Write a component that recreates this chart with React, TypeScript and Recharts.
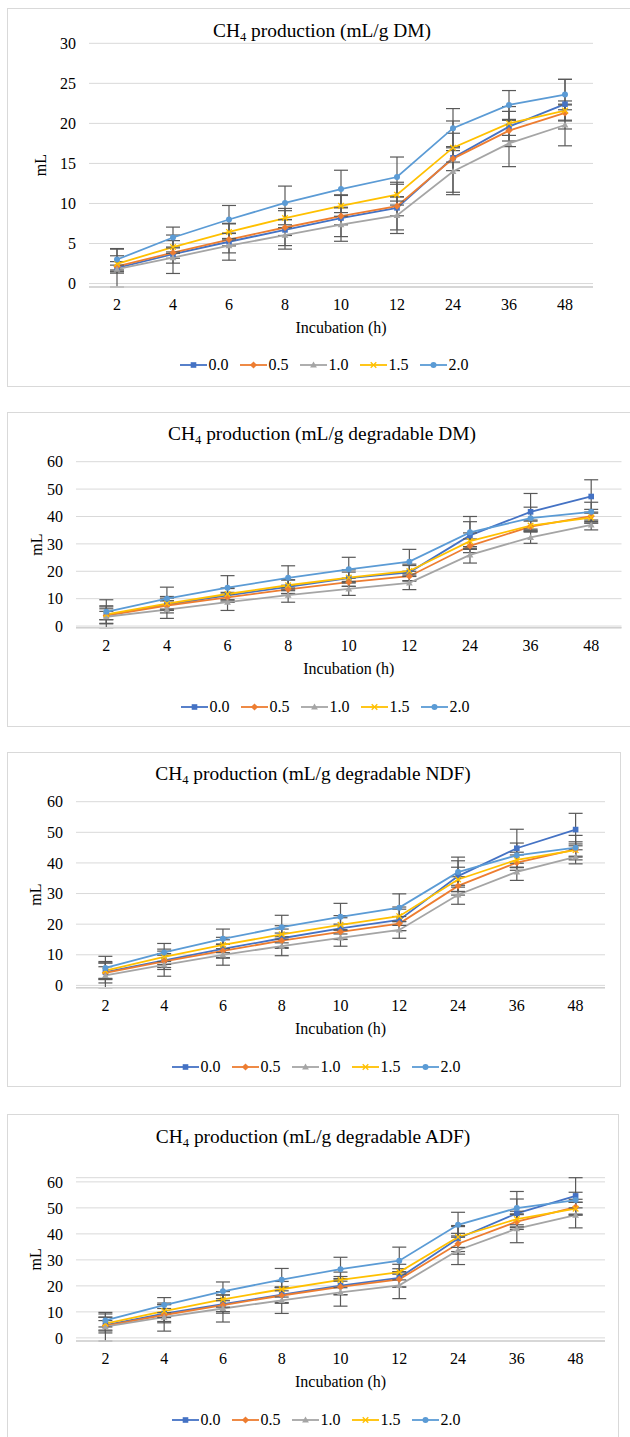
import React from 'react';
import { LineChart, Line, XAxis, YAxis, CartesianGrid, ErrorBar, Legend, Label } from 'recharts';

const hours = ['2', '4', '6', '8', '10', '12', '24', '36', '48'];
const levels = ['0.0', '0.5', '1.0', '1.5', '2.0'];

const ticksDm = [0, 5, 10, 15, 20, 25, 30];
const ticksDeg = [0, 10, 20, 30, 40, 50, 60];

// one row per level (0.0 ... 2.0), one value per incubation hour
const dmMean = [
  [1.97, 3.66, 5.22, 6.7, 8.18, 9.45, 15.7, 19.6, 22.4],
  [2.14, 3.86, 5.5, 7.0, 8.43, 9.66, 15.6, 19.1, 21.3],
  [1.8, 3.25, 4.73, 6.04, 7.36, 8.5, 14.0, 17.5, 19.8],
  [2.47, 4.56, 6.45, 8.18, 9.7, 11.1, 16.97, 20.0, 21.6],
  [3.0, 5.75, 8.0, 10.07, 11.8, 13.3, 19.4, 22.3, 23.6],
];
const dmSd = [
  [2.4, 2.4, 2.3, 2.4, 2.9, 3.2, 4.6, 2.5, 3.1],
  [0.6, 0.7, 0.8, 1.0, 1.1, 1.2, 1.5, 1.3, 1.0],
  [0.5, 0.7, 0.9, 1.3, 1.5, 1.8, 2.6, 2.9, 2.6],
  [1.0, 0.8, 1.0, 1.2, 1.3, 1.3, 1.8, 1.5, 1.2],
  [1.3, 1.3, 1.75, 2.1, 2.35, 2.5, 2.45, 1.8, 1.9],
];

const degDmMean = [
  [4.0, 7.8, 11.2, 14.3, 17.5, 19.6, 33.1, 41.7, 47.3],
  [3.85, 7.5, 10.5, 13.4, 16.0, 18.2, 29.3, 36.3, 40.1],
  [3.4, 6.0, 8.7, 11.3, 13.6, 15.8, 26.0, 32.4, 36.9],
  [4.3, 8.2, 11.7, 14.9, 17.7, 20.1, 31.0, 36.7, 39.6],
  [5.2, 10.0, 14.0, 17.6, 20.7, 23.5, 34.2, 39.4, 41.7],
];
const degDmSd = [
  [3.0, 3.0, 2.5, 2.5, 3.0, 3.0, 5.0, 6.7, 6.1],
  [1.5, 1.8, 1.8, 1.5, 1.5, 1.8, 2.5, 2.0, 2.5],
  [4.0, 3.2, 3.0, 2.6, 2.4, 2.5, 3.0, 2.2, 1.8],
  [2.0, 2.0, 2.2, 2.0, 2.0, 2.0, 3.0, 2.0, 2.0],
  [4.4, 4.2, 4.4, 4.4, 4.4, 4.5, 5.8, 4.0, 3.5],
];

const ndfMean = [
  [4.3, 8.2, 11.9, 15.4, 18.6, 21.4, 35.7, 44.8, 50.9],
  [4.1, 7.85, 11.3, 14.6, 17.5, 20.2, 32.5, 40.1, 44.4],
  [3.3, 6.7, 10.0, 12.8, 15.5, 18.1, 29.6, 37.1, 42.0],
  [4.8, 9.35, 13.2, 16.7, 19.8, 22.6, 34.6, 41.0, 44.2],
  [5.7, 10.75, 15.2, 19.0, 22.4, 25.4, 37.0, 42.5, 45.0],
];
const ndfSd = [
  [3.5, 3.0, 3.0, 3.0, 3.5, 3.5, 5.0, 6.2, 5.3],
  [2.0, 2.0, 2.2, 2.5, 2.5, 2.3, 3.0, 2.5, 2.5],
  [4.05, 3.7, 3.4, 3.1, 2.7, 2.7, 3.1, 2.8, 2.3],
  [2.5, 2.5, 2.5, 2.8, 3.0, 3.0, 4.0, 2.5, 2.0],
  [3.8, 2.95, 3.2, 3.9, 4.4, 4.5, 4.9, 4.0, 4.0],
];

const adfMean = [
  [4.9, 9.3, 13.0, 16.6, 20.1, 23.1, 38.2, 47.9, 54.6],
  [4.65, 8.8, 12.6, 16.3, 19.6, 22.5, 36.2, 44.7, 50.3],
  [4.3, 8.0, 11.3, 14.4, 17.5, 20.2, 33.7, 42.0, 47.2],
  [5.5, 10.3, 14.8, 18.7, 22.3, 25.3, 38.8, 45.7, 49.7],
  [6.7, 12.6, 17.9, 22.4, 26.4, 29.7, 43.5, 49.9, 53.0],
];
const adfSd = [
  [3.0, 3.5, 3.5, 3.0, 3.5, 3.5, 5.0, 5.5, 7.0],
  [2.0, 2.5, 2.5, 3.0, 3.0, 3.0, 4.0, 3.0, 3.0],
  [5.5, 5.4, 5.2, 5.0, 5.3, 5.1, 5.5, 5.4, 4.9],
  [2.5, 2.5, 3.0, 3.0, 3.0, 3.0, 4.0, 3.0, 2.5],
  [2.5, 2.9, 3.6, 4.3, 4.6, 5.2, 4.8, 6.4, 3.0],
];

const colors = ['#4472C4', '#ED7D31', '#A5A5A5', '#FFC000', '#5B9BD5'];
const shapes = ['square', 'diamond', 'triangle', 'x', 'circle'];
const FONT = '"Liberation Serif", "Times New Roman", serif';

const buildRows = (mean: number[][], sd: number[][]) =>
  hours.map((h, i) => {
    const row: Record<string, string | number> = { h };
    levels.forEach((_, k) => {
      row['m' + k] = mean[k][i];
      row['e' + k] = sd[k][i];
    });
    return row;
  });

function Marker({ shape, cx, cy, color }: { shape: string; cx?: number; cy?: number; color: string }) {
  if (cx == null || cy == null) return null;
  switch (shape) {
    case 'square':
      return <rect x={cx - 2.8} y={cy - 2.8} width={5.6} height={5.6} fill={color} />;
    case 'diamond':
      return <polygon points={`${cx},${cy - 3.6} ${cx + 3.6},${cy} ${cx},${cy + 3.6} ${cx - 3.6},${cy}`} fill={color} />;
    case 'triangle':
      return <polygon points={`${cx},${cy - 3.4} ${cx + 3.4},${cy + 2.6} ${cx - 3.4},${cy + 2.6}`} fill={color} />;
    case 'x':
      return (
        <g stroke={color} strokeWidth={1.3}>
          <line x1={cx - 2.8} y1={cy - 2.8} x2={cx + 2.8} y2={cy + 2.8} />
          <line x1={cx - 2.8} y1={cy + 2.8} x2={cx + 2.8} y2={cy - 2.8} />
        </g>
      );
    default:
      return <circle cx={cx} cy={cy} r={3} fill={color} />;
  }
}

const renderLegend = () => (
  <div className="ch-legend" style={{ display: 'flex', justifyContent: 'center', alignItems: 'center', fontSize: 16, color: '#000' }}>
    {levels.map((lv, k) => (
      <div key={lv} style={{ display: 'flex', alignItems: 'center', marginRight: k < levels.length - 1 ? 11 : 0 }}>
        <svg width={27} height={12}>
          <line x1={0} y1={6} x2={27} y2={6} stroke={colors[k]} strokeWidth={1.8} />
          <Marker shape={shapes[k]} cx={13.5} cy={6} color={colors[k]} />
        </svg>
        <span style={{ marginLeft: 2 }}>{lv}</span>
      </div>
    ))}
  </div>
);

const panels = [
  { name: 'DM', mean: dmMean, sd: dmSd, yMax: 30, ticks: ticksDm },
  { name: 'degradable DM', mean: degDmMean, sd: degDmSd, yMax: 60, ticks: ticksDeg },
  { name: 'degradable NDF', mean: ndfMean, sd: ndfSd, yMax: 60, ticks: ticksDeg },
  { name: 'degradable ADF', mean: adfMean, sd: adfSd, yMax: 60, ticks: ticksDeg },
];

// page geometry of each panel
const layouts = [
  { boxTop: 8, boxH: 379, boxW: 660, plotTop: 43.3, plotBottom: 287, plotLeft: 89, plotRight: 593, titleX: 322, titleY: 31, legendX: 324, legendY: 366, yLabelX: 40 },
  { boxTop: 412, boxH: 315, boxW: 660, plotTop: 461.7, plotBottom: 627.7, plotLeft: 76, plotRight: 621.5, titleX: 322, titleY: 434, legendX: 325, legendY: 708, yLabelX: 36 },
  { boxTop: 752, boxH: 335, boxW: 614, plotTop: 801.7, plotBottom: 987.7, plotLeft: 76, plotRight: 605, titleX: 313, titleY: 774, legendX: 316, legendY: 1067.7, yLabelX: 35 },
  { boxTop: 1114, boxH: 340, boxW: 612, plotTop: 1177.7, plotBottom: 1341, plotLeft: 76, plotRight: 605, titleX: 313, titleY: 1137, legendX: 316, legendY: 1421, yLabelX: 35 },
];

const X_AXIS_H = 52;
const textStyle = { fill: '#000', fontSize: 16 };

function Panel({ idx }: { idx: number }) {
  const p = panels[idx];
  const L = layouts[idx];
  const data = buildRows(p.mean, p.sd);
  const margin = {
    top: L.plotTop - L.boxTop,
    right: 630 - L.plotRight,
    bottom: L.boxH - (L.plotBottom - L.boxTop) - X_AXIS_H,
    left: 0,
  };
  return (
    <>
      <div style={{ position: 'absolute', left: 7, top: L.boxTop, width: L.boxW, height: L.boxH, border: '1px solid #d9d9d9', boxSizing: 'border-box' }} />
      <div style={{ position: 'absolute', left: L.titleX - 250, top: L.titleY - 12, width: 500, textAlign: 'center', fontSize: 19.4, lineHeight: '24px', color: '#000', whiteSpace: 'nowrap' }}>
        CH<span style={{ fontSize: '0.65em', position: 'relative', top: 4 }}>4</span> production (mL/g {p.name})
      </div>
      <div style={{ position: 'absolute', left: 0, top: L.boxTop }}>
        <LineChart width={630} height={L.boxH} data={data} margin={margin}>
          <CartesianGrid vertical={false} stroke="#d9d9d9" />
          <XAxis
            dataKey="h"
            scale="band"
            interval={0}
            height={X_AXIS_H}
            tickLine={false}
            tickSize={0}
            tickMargin={12}
            axisLine={{ stroke: '#d0d0d0', strokeWidth: 1.5 }}
            tick={textStyle}
          >
            <Label value="Incubation (h)" position="insideBottom" offset={6} style={textStyle} />
          </XAxis>
          <YAxis
            width={L.plotLeft}
            domain={[0, p.yMax]}
            ticks={p.ticks}
            interval={0}
            axisLine={false}
            tickLine={false}
            tickSize={0}
            tickMargin={13}
            tick={textStyle}
          >
            <Label value="mL" angle={-90} position="insideLeft" offset={L.yLabelX} style={{ ...textStyle, textAnchor: 'middle' }} />
          </YAxis>
          <Legend layout="horizontal" verticalAlign="middle" align="center" content={renderLegend}
            wrapperStyle={{ top: L.legendY - L.boxTop - 10, left: L.legendX - 160, width: 320 }} />
          {levels.map((lv, k) => (
            <Line
              key={lv}
              dataKey={'m' + k}
              name={lv}
              stroke={colors[k]}
              strokeWidth={1.8}
              isAnimationActive={false}
              activeDot={false}
              dot={(d: any) => <Marker key={`d${k}-${d.index}`} shape={shapes[k]} cx={d.cx} cy={d.cy} color={colors[k]} />}
            >
              <ErrorBar dataKey={'e' + k} direction="y" width={7} stroke="#595959" strokeWidth={1.2} isAnimationActive={false} />
            </Line>
          ))}
        </LineChart>
      </div>
    </>
  );
}

export default function App() {
  return (
    <div style={{ position: 'absolute', left: 0, top: 0, width: 630, height: 1437, overflow: 'hidden', background: '#fff', fontFamily: FONT }}>
      <style>{`.recharts-wrapper text, .recharts-wrapper .ch-legend { font-family: ${FONT} !important; }`}</style>
      {panels.map((_, i) => (
        <Panel key={i} idx={i} />
      ))}
    </div>
  );
}
